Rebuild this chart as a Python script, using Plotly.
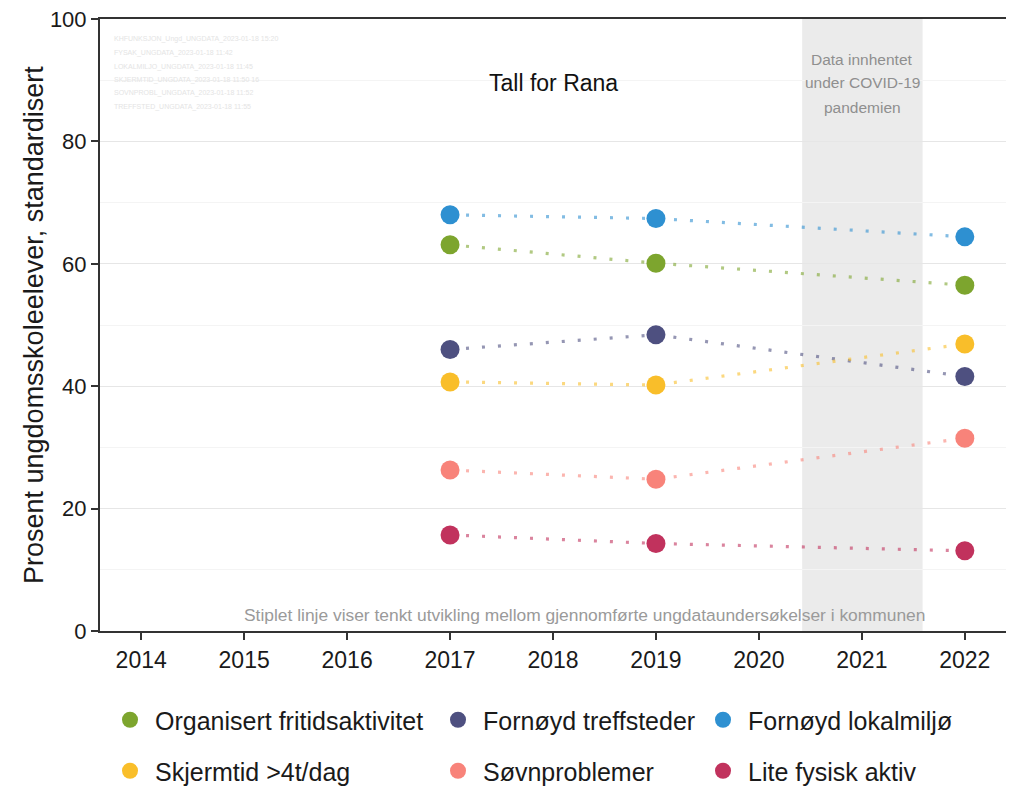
import plotly.graph_objects as go

years = [2017, 2019, 2022]
tick_years = [2014, 2015, 2016, 2017, 2018, 2019, 2020, 2021, 2022]
y_ticks = [0, 20, 40, 60, 80, 100]

series_names = [
    "Organisert fritidsaktivitet",
    "Fornøyd treffsteder",
    "Fornøyd lokalmiljø",
    "Skjermtid >4t/dag",
    "Søvnproblemer",
    "Lite fysisk aktiv",
]
organisert = [63.1, 60.1, 56.5]
treffsteder = [46.0, 48.4, 41.6]
lokalmiljo = [68.0, 67.4, 64.4]
skjermtid = [40.7, 40.2, 46.9]
sovn = [26.3, 24.8, 31.5]
fysisk = [15.7, 14.3, 13.1]
series_values = [organisert, treffsteder, lokalmiljo, skjermtid, sovn, fysisk]
colors = ["#7DA52E", "#4E5080", "#2E90D1", "#F9BE2A", "#F8837A", "#C1325D"]

covid_x0, covid_x1 = 2020.42, 2021.59
title_text = "Tall for Rana"
caption = "Stiplet linje viser tenkt utvikling mellom gjennomførte ungdataundersøkelser i kommunen"
covid_lines = ["Data innhentet", "under COVID-19", "pandemien"]
tiny_lines = [
    "KHFUNKSJON_Ungd_UNGDATA_2023-01-18 15:20",
    "FYSAK_UNGDATA_2023-01-18 11:42",
    "LOKALMILJO_UNGDATA_2023-01-18 11:45",
    "SKJERMTID_UNGDATA_2023-01-18 11:50 16",
    "SOVNPROBL_UNGDATA_2023-01-18 11:52",
    "TREFFSTED_UNGDATA_2023-01-18 11:55",
]

W, H = 1014, 788
L, R, T, B = 100, 8, 19, 157
FONT = "Liberation Sans, Arial, sans-serif"


def rgba(hexc, a):
    h = hexc.lstrip("#")
    return "rgba(%d,%d,%d,%.2f)" % (int(h[0:2], 16), int(h[2:4], 16), int(h[4:6], 16), a)


fig = go.Figure()

# dotted connecting lines
for name, vals, c in zip(series_names, series_values, colors):
    fig.add_trace(go.Scatter(
        x=years, y=vals, mode="lines",
        line=dict(color=rgba(c, 0.6), width=3.2, dash="3px,13px"),
        showlegend=False, hoverinfo="skip",
    ))

# markers with legends (6 single-item legends to mimic the 2x3 grid)
for i, (name, vals, c) in enumerate(zip(series_names, series_values, colors)):
    fig.add_trace(go.Scatter(
        x=years, y=vals, mode="markers", name=name,
        marker=dict(color=c, size=19, line=dict(width=0)),
        legend="legend" if i == 0 else "legend%d" % (i + 1),
    ))

leg_x_px = [105, 433, 698]
leg_y_px = [720, 771]
legend_layouts = {}
for i in range(6):
    key = "legend" if i == 0 else "legend%d" % (i + 1)
    col, row = i % 3, i // 3
    legend_layouts[key] = dict(
        xref="container", yref="container",
        x=leg_x_px[col] / W, y=1 - leg_y_px[row] / H,
        xanchor="left", yanchor="middle",
        itemwidth=40,
        font=dict(family=FONT, size=25, color="#1a1a1a"),
        bgcolor="rgba(0,0,0,0)", borderwidth=0,
    )

fig.add_shape(type="rect", xref="x", yref="y",
              x0=covid_x0, x1=covid_x1, y0=0, y1=100,
              fillcolor="#ebebeb", line=dict(width=0), layer="below")

annotations = []
pw = W - L - R
ph = H - T - B


def py(ypix):
    return (H - B - ypix) / ph


annotations.append(dict(text=title_text, x=2018, xref="x", y=py(83), yref="paper",
                        showarrow=False, xanchor="center", yanchor="middle",
                        font=dict(family=FONT, size=23, color="#111111")))
annotations.append(dict(text=caption, x=(584.5 - L) / pw, xref="paper", y=py(615), yref="paper",
                        showarrow=False, xanchor="center", yanchor="middle",
                        font=dict(family=FONT, size=17.4, color="#9a9a9a")))
for t, yp in zip(covid_lines, [60, 83, 107]):
    annotations.append(dict(text=t, x=(covid_x0 + covid_x1) / 2, xref="x", y=py(yp), yref="paper",
                            showarrow=False, xanchor="center", yanchor="middle",
                            font=dict(family=FONT, size=15.5, color="#8f8f8f")))
for t, yp in zip(tiny_lines, [39, 53, 67, 80, 93, 107]):
    annotations.append(dict(text=t, x=(112 - L) / pw, xref="paper", y=py(yp), yref="paper",
                            showarrow=False, xanchor="left", yanchor="middle",
                            font=dict(family=FONT, size=7, color="#e4e4e4")))
annotations.append(dict(text="Prosent ungdomsskoleelever, standardisert",
                        x=(34 - L) / pw, xref="paper", y=0.5, yref="paper",
                        textangle=-90, showarrow=False, xanchor="center", yanchor="middle",
                        font=dict(family=FONT, size=27, color="#1a1a1a")))

fig.update_layout(
    width=W, height=H,
    margin=dict(l=L, r=R, t=T, b=B, autoexpand=False),
    paper_bgcolor="white", plot_bgcolor="white",
    font=dict(family=FONT, color="#1a1a1a"),
    annotations=annotations,
    **legend_layouts,
)

fig.update_xaxes(
    range=[2013.6, 2022.4], tickvals=tick_years, ticktext=[str(y) for y in tick_years],
    showgrid=False, zeroline=False,
    showline=True, linecolor="#333333", linewidth=2, mirror=True,
    ticks="outside", ticklen=7, tickwidth=1.5, tickcolor="#333333",
    tickfont=dict(family=FONT, size=23, color="#1a1a1a"),
)
fig.update_yaxes(
    range=[0, 100], tickvals=y_ticks,
    showgrid=True, gridcolor="#e6e6e6", gridwidth=1, zeroline=False,
    minor=dict(tick0=0, dtick=10, showgrid=True, gridcolor="#f4f4f4", gridwidth=1),
    showline=True, linecolor="#333333", linewidth=2,
    ticks="outside", ticklen=7, tickwidth=1.5, tickcolor="#333333",
    tickfont=dict(family=FONT, size=22, color="#1a1a1a"),
)

fig.write_html("out.html",
               config={"displayModeBar": False},
               post_script="document.body.style.margin='0';document.body.style.overflow='hidden';")
